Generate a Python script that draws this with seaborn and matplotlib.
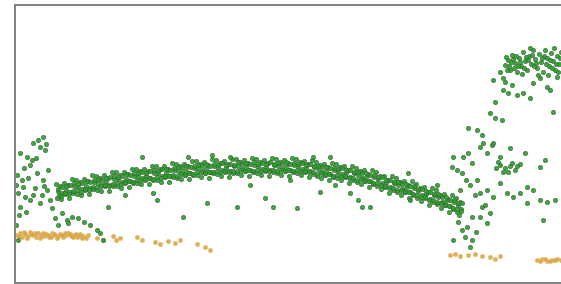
import pandas as pd
import matplotlib.pyplot as plt
import seaborn as sns

band = [
    (56,184),(58,191),(57,198),(60,186),(62,193),(61,199),(64,183),(66,190),(65,194),
    (68,185),(70,192),(69,198),(72,179),(74,186),(73,193),(76,180),(78,187),(77,194),
    (80,182),(82,189),(81,195),(84,179),(86,186),(85,190),(88,181),(90,188),(89,194),
    (92,175),(94,182),(93,189),(96,176),(98,183),(97,190),(100,178),(102,185),(101,191),
    (104,175),(106,182),(105,186),(108,178),(110,185),(109,191),(112,172),(114,179),(113,186),
    (116,172),(118,179),(117,186),(120,175),(122,182),(121,188),(124,172),(126,179),(125,183),
    (128,174),(130,181),(129,187),(132,169),(134,176),(133,183),(136,169),(138,176),(137,183),
    (140,171),(142,178),(141,184),(144,169),(146,176),(145,180),(148,171),(150,178),(149,184),
    (152,166),(154,173),(153,180),(156,166),(158,173),(157,180),(160,169),(162,176),(161,182),
    (164,166),(166,173),(165,177),(168,169),(170,176),(169,182),(172,163),(174,170),(173,177),
    (176,164),(178,171),(177,178),(180,166),(182,173),(181,179),(184,164),(186,171),(185,175),
    (188,166),(190,173),(189,179),(192,161),(194,168),(193,175),(196,161),(198,168),(197,175),
    (200,164),(202,171),(201,177),(204,162),(206,169),(205,173),(208,165),(210,172),(209,178),
    (212,159),(214,166),(213,173),(216,160),(218,167),(217,174),(220,163),(222,170),(221,176),
    (224,161),(226,168),(225,172),(228,164),(230,171),(229,177),(232,159),(234,166),(233,173),
    (236,159),(238,166),(237,173),(240,162),(242,169),(241,175),(244,160),(246,167),(245,171),
    (248,163),(250,170),(249,176),(252,158),(254,165),(253,172),(256,159),(258,166),(257,173),
    (260,162),(262,169),(261,175),(264,160),(266,167),(265,171),(268,163),(270,170),(269,176),
    (272,158),(274,165),(273,172),(276,159),(278,166),(277,173),(280,162),(282,169),(281,175),
    (284,160),(286,167),(285,171),(288,163),(290,170),(289,176),(292,158),(294,165),(293,172),
    (296,159),(298,166),(297,173),(300,162),(302,169),(301,175),(304,161),(306,168),(305,172),
    (308,164),(310,171),(309,177),(312,160),(314,167),(313,174),(316,162),(318,169),(317,176),
    (320,165),(322,172),(321,178),(324,164),(326,171),(325,175),(328,167),(330,174),(329,180),
    (332,163),(334,170),(333,177),(336,164),(338,171),(337,178),(340,167),(342,174),(341,180),
    (344,166),(346,173),(345,177),(348,170),(350,177),(349,183),(352,166),(354,173),(353,180),
    (356,168),(358,175),(357,182),(360,171),(362,178),(361,184),(364,170),(366,177),(365,181),
    (368,174),(370,181),(369,187),(372,170),(374,177),(373,184),(376,172),(378,179),(377,186),
    (380,176),(382,183),(381,189),(384,176),(386,183),(385,187),(388,180),(390,187),(389,193),
    (392,176),(394,183),(393,190),(396,178),(398,185),(397,192),(400,182),(402,189),(401,195),
    (404,181),(406,188),(405,192),(408,185),(410,192),(409,198),(412,181),(414,188),(413,195),
    (416,184),(418,191),(417,198),(420,188),(422,195),(421,201),(424,187),(426,194),(425,198),
    (428,192),(430,199),(429,205),(432,188),(434,195),(433,202),(436,190),(438,197),(437,204),
    (440,195),(442,202),(441,208),(444,194),(446,201),(445,205),(448,199),(450,206),(449,212),
    (452,195),(454,202),(453,209),(456,198),(458,205),(457,212),(460,202),(461,209),(459,215),
]

band_fill = [
    (58,189),(59,195),(62,187),(61,196),(66,186),(65,193),(70,185),(69,194),(74,183),(73,191),
    (78,184),(77,190),(82,183),(81,192),(86,181),(85,189),(90,182),(89,190),(94,180),(93,187),
    (98,179),(97,187),(102,180),(101,186),(106,178),(105,185),(110,177),(109,186),(114,176),(113,184),
    (118,177),(117,183),(122,176),(121,184),(126,174),(125,182),(130,175),(129,181),(134,173),(133,182),
    (138,173),(137,180),(142,172),(141,180),(146,173),(145,179),(150,171),(149,178),(154,170),(153,179),
    (158,171),(157,177),(162,169),(161,178),(166,169),(165,176),(170,170),(169,176),(174,168),(173,175),
    (178,167),(177,176),(182,168),(181,174),(186,166),(185,175),(190,167),(189,173),(194,166),(193,174),
    (198,165),(197,172),(202,166),(201,172),(206,164),(205,173),(210,166),(209,172),(214,164),(213,172),
    (218,165),(217,171),(222,163),(221,172),(226,165),(225,171),(230,164),(229,172),(234,165),(233,171),
    (238,162),(237,171),(242,164),(241,170),(246,163),(245,171),(250,164),(249,170),(254,162),(253,171),
    (258,164),(257,170),(262,163),(261,171),(266,164),(265,170),(270,162),(269,171),(274,164),(273,170),
    (278,163),(277,171),(282,164),(281,170),(286,162),(285,171),(290,164),(289,170),(294,163),(293,171),
    (298,164),(297,170),(302,163),(301,171),(306,165),(305,171),(310,164),(309,172),(314,166),(313,172),
    (318,166),(317,174),(322,167),(321,173),(326,167),(325,175),(330,168),(329,174),(334,168),(333,176),
    (338,169),(337,175),(342,168),(341,176),(346,170),(345,176),(350,170),(349,178),(354,172),(353,178),
    (358,172),(357,180),(362,173),(361,179),(366,173),(365,181),(370,175),(369,181),(374,175),(373,183),
    (378,177),(377,183),(382,177),(381,185),(386,180),(385,186),(390,180),(389,188),(394,182),(393,188),
    (398,182),(397,190),(402,184),(401,190),(406,184),(405,192),(410,186),(409,192),(414,186),(413,194),
    (418,189),(417,195),(422,189),(421,197),(426,191),(425,197),(430,192),(429,200),(434,194),(433,200),
    (438,194),(437,202),(442,197),(441,203),(446,197),(445,205),(450,200),(449,206),(454,200),(453,208),
    (458,203),(457,209),(462,203),(461,211),
]

left_cluster = [
    (43,137),(33,143),(40,147),(27,157),(20,153),(32,160),(48,170),(43,180),(37,173),
    (23,187),(18,193),(30,200),(40,203),(50,200),(20,207),(17,175),(24,168),(36,158),
    (45,150),(28,178),(35,188),(47,190),(19,215),(26,212),(33,195),(42,195),(52,208),
    (55,218),(62,213),(67,220),(72,217),(78,218),(68,223),(90,225),(97,230),(100,233),
    (103,240),(16,225),(18,240),(58,225),(84,222),(22,180),(38,140),(46,144),(30,165),
    (16,185),(25,197),(44,186),
]

scattered = [
    (142,157),(188,157),(212,155),(230,157),(157,200),(207,203),(237,207),(183,217),
    (108,207),(265,198),(273,207),(153,193),(297,208),(320,192),(350,193),(358,200),
    (362,207),(370,207),(410,200),(313,157),(330,157),(408,173),(437,185),(125,195),
    (250,185),(290,180),(335,185),
]

right_cluster = [
    (505,65),(508,60),(510,70),(512,55),(515,63),(517,72),(519,58),(521,66),(523,52),
    (525,61),(527,70),(529,56),(531,64),(533,50),(535,59),(537,68),(539,54),(541,62),
    (543,72),(545,50),(547,58),(549,66),(551,53),(553,61),(555,70),(557,56),(559,64),
    (561,52),(506,57),(514,68),(522,74),(530,48),(538,75),(546,64),(554,48),(500,72),
    (503,78),(540,78),(548,75),(558,72),(511,62),(518,66),(526,57),(534,66),(544,56),
    (509,66),(513,59),(520,62),(524,68),(528,60),(532,55),(536,63),(542,58),(550,60),
    (556,64),(552,68),(516,56),(507,70),(560,58),
    (493,80),(505,82),(512,85),(503,90),(508,93),(517,95),(523,93),(530,98),(495,102),
    (490,113),(495,118),(502,120),(468,128),(477,130),(482,135),(483,143),(492,145),
    (510,148),(553,112),(547,87),(550,90),(557,77),(533,83),
    (453,157),(463,157),(468,153),(472,163),(480,147),(487,153),(493,143),(500,157),
    (525,153),(500,165),(505,168),(510,166),(515,170),(520,164),(508,172),(503,172),
    (517,166),(496,168),(512,163),(498,162),(452,167),(457,170),(462,173),(477,180),
    (480,193),(487,190),(493,197),(500,183),(507,193),(513,197),(520,193),(527,187),
    (533,190),(527,203),(540,200),(547,202),(555,200),(540,167),(543,220),(545,160),
    (470,185),(475,195),(485,205),(460,190),(466,180),(472,217),(467,227),(462,230),
    (465,237),(472,240),(453,240),(470,247),(480,217),(487,223),(482,207),(490,213),
    (458,222),(476,232),
]

orange = [
    (17,235),(20,233),(22,237),(25,234),(28,236),(30,232),(33,235),(36,237),(38,233),
    (41,235),(44,236),(46,234),(49,237),(52,233),(55,235),(58,236),(60,234),(63,237),
    (66,235),(68,233),(71,236),(74,235),(77,237),(80,234),(83,236),(86,238),(88,235),
    (19,236),(24,232),(27,238),(32,234),(35,233),(40,238),(43,233),(48,235),(51,237),
    (54,234),(57,238),(62,235),(65,233),(70,234),(73,237),(76,234),(79,236),(82,238),
    (97,238),(103,240),(113,236),(116,240),(120,238),(137,237),(142,240),(155,242),
    (160,244),(168,241),(175,243),(180,240),(197,244),(205,247),(210,250),
    (450,255),(455,254),(460,256),(468,255),(475,254),(482,256),(490,257),(495,259),
    (500,256),(537,260),(542,259),(547,261),(552,260),(557,259),(561,260),
    (540,261),(545,259),(550,261),(555,260),
]

green = pd.DataFrame(band + band_fill + left_cluster + scattered + right_cluster,
                     columns=["x", "y"])
gold = pd.DataFrame(orange, columns=["x", "y"])

fig = plt.figure(figsize=(5.61, 2.84), dpi=100)
ax = fig.add_axes([15 / 561, 1 / 284, 560 / 561, 278 / 284])

sns.scatterplot(data=gold, x="x", y="y", color="#dba23c", s=10,
                edgecolor="#e0b868", linewidth=0.4, alpha=0.85, ax=ax)
sns.scatterplot(data=green, x="x", y="y", color="#1fa51f", s=10,
                edgecolor="#4a5a4a", linewidth=0.45, alpha=0.9, ax=ax)

ax.set_xlim(15, 575)
ax.set_ylim(283, 5)
ax.set_xticks([])
ax.set_yticks([])
ax.set_xlabel("")
ax.set_ylabel("")
ax.spines["right"].set_visible(False)
for side in ["left", "top", "bottom"]:
    ax.spines[side].set_color("#808080")
    ax.spines[side].set_linewidth(1.4)

fig.savefig("out.png", dpi=100)
